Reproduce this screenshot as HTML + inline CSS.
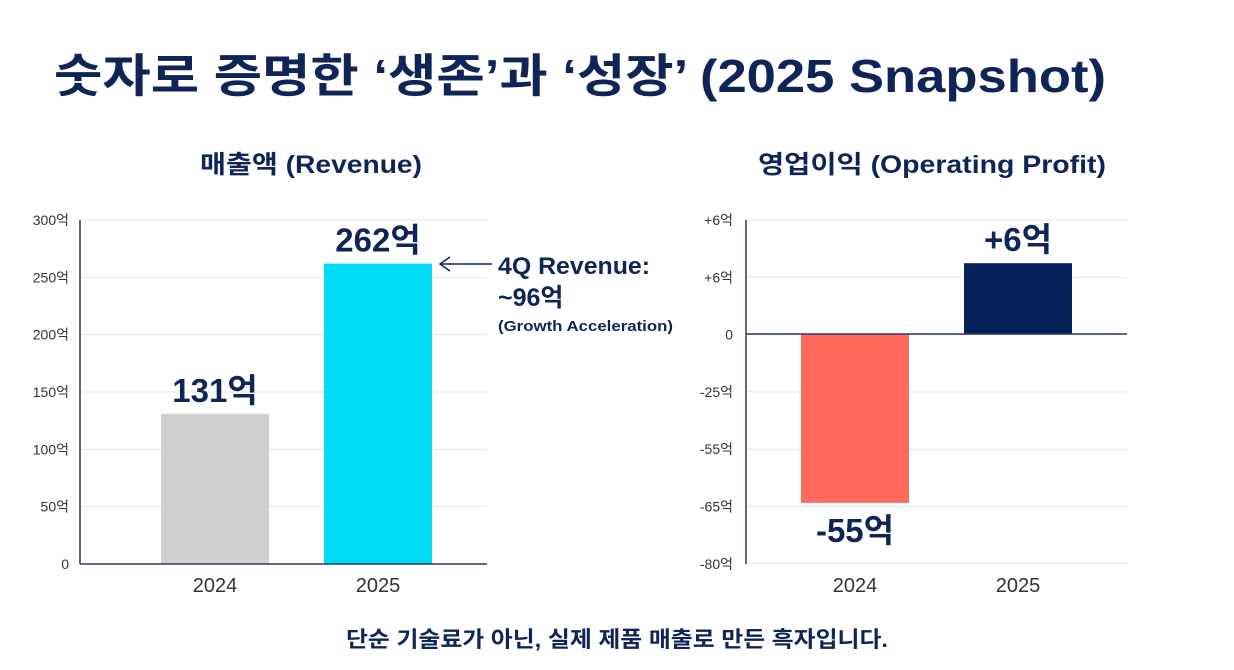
<!DOCTYPE html>
<html><head><meta charset="utf-8">
<style>
html,body{margin:0;padding:0;background:#fff;width:1234px;height:670px;overflow:hidden}
body{font-family:"Liberation Sans","Noto Sans CJK KR",sans-serif;color:#0f2557}
</style></head>
<body>
<svg width="1234" height="670" viewBox="0 0 1234 670" xmlns="http://www.w3.org/2000/svg" font-family="Liberation Sans, Noto Sans CJK KR, sans-serif">
<text x="54" y="92" font-size="46" font-weight="bold" fill="#0f2557" textLength="1052" lengthAdjust="spacingAndGlyphs">숫자로 증명한 ‘생존’과 ‘성장’ (2025 Snapshot)</text>
<text x="200" y="173" font-size="25" font-weight="bold" fill="#0f2557" textLength="222" lengthAdjust="spacingAndGlyphs">매출액 (Revenue)</text>
<text x="758" y="173" font-size="25" font-weight="bold" fill="#0f2557" textLength="348" lengthAdjust="spacingAndGlyphs">영업이익 (Operating Profit)</text>
<g id="left"></g>
<g id="right"></g>
<g>
<line x1="440" y1="264" x2="492" y2="264" stroke="#0f2557" stroke-width="1.5"/>
<polyline points="450,257 440,264 450,271" fill="none" stroke="#0f2557" stroke-width="1.5"/>
<text x="498" y="274" font-size="24" font-weight="bold" fill="#0f2557" textLength="152" lengthAdjust="spacingAndGlyphs">4Q Revenue:</text>
<text x="498" y="306" font-size="25" font-weight="bold" fill="#0f2557">~96억</text>
<text x="498" y="331" font-size="15" font-weight="bold" fill="#0f2557" textLength="175" lengthAdjust="spacingAndGlyphs">(Growth Acceleration)</text>
</g>
<text x="346" y="647" font-size="22" font-weight="bold" fill="#0f2557" textLength="542" lengthAdjust="spacingAndGlyphs">단순 기술료가 아닌, 실제 제품 매출로 만든 흑자입니다.</text>
</svg>
<script>
const revCategories = ["2024","2025"];
const revValues = [131, 262];
const revLabels = ["131억","262억"];
const revTicks = [0,50,100,150,200,250,300];
const profCategories = ["2024","2025"];
const profValues = [-55, 6];
const profLabels = ["-55억","+6억"];
const profTickLabels = ["+6억","+6억","0","-25억","-55억","-65억","-80억"];

const NS="http://www.w3.org/2000/svg";
function mk(p,t,a){const e=document.createElementNS(NS,t);for(const k in a)e.setAttribute(k,a[k]);p.appendChild(e);return e;}

const L=document.getElementById('left');
const ly=v=>564-v*(344/300);
const lx=i=>215+i*163;
revTicks.forEach(t=>{
  const g=mk(L,'line',{x1:80,x2:487,y1:ly(t),y2:ly(t),stroke:'#e3e3e3','stroke-width':1});
  
  
  const tx=mk(L,'text',{x:69,y:ly(t)+5,'font-size':14,'text-anchor':'end',fill:'#333'});
  tx.textContent=t===0?'0':t+'억';
  
  
});
const revColors=['#d0d0d0','#00dcf5'];
revValues.forEach((v,i)=>{
  const r=mk(L,'rect',{x:lx(i)-54,y:ly(v),width:108,height:ly(0)-ly(v),fill:revColors[i]});
  
  
  const t=mk(L,'text',{x:lx(i),y:ly(v)-12,'font-size':33,'font-weight':'bold','text-anchor':'middle',fill:'#0f2557'});
  t.textContent=revLabels[i];
  
  
  const c=mk(L,'text',{x:lx(i),y:592,'font-size':20,'text-anchor':'middle',fill:'#333'});
  c.textContent=revCategories[i];
  
  
});
mk(L,'line',{x1:80,x2:80,y1:220,y2:564,stroke:'#2a3a5a','stroke-width':1.5});
mk(L,'line',{x1:80,x2:487,y1:564,y2:564,stroke:'#2a3a5a','stroke-width':1.5});

const R=document.getElementById('right');
const ry=v=>v<0?334-v*3.07:334-v*11.8;
const rx=i=>855+i*163;
profTickLabels.forEach((lab,i)=>{
  const y=220+i*57.3;
  const g=mk(R,'line',{x1:746,x2:1127,y1:y,y2:y,stroke:'#e3e3e3','stroke-width':1});
  
  
  const tx=mk(R,'text',{x:733,y:y+5,'font-size':14,'text-anchor':'end',fill:'#333'});
  tx.textContent=lab;
  
  
});
const profColors=['#ff6a5c','#04215a'];
profValues.forEach((v,i)=>{
  const top=Math.min(ry(v),ry(0)),h=Math.abs(ry(v)-ry(0));
  const r=mk(R,'rect',{x:rx(i)-54,y:top,width:108,height:h,fill:profColors[i]});
  
  
  const ty=v<0?ry(v)+39:ry(v)-12;
  const t=mk(R,'text',{x:rx(i),y:ty,'font-size':33,'font-weight':'bold','text-anchor':'middle',fill:'#0f2557'});
  t.textContent=profLabels[i];
  
  
  const c=mk(R,'text',{x:rx(i),y:592,'font-size':20,'text-anchor':'middle',fill:'#333'});
  c.textContent=profCategories[i];
  
  
});
mk(R,'line',{x1:746,x2:746,y1:220,y2:564,stroke:'#2a3a5a','stroke-width':1.5});
mk(R,'line',{x1:746,x2:1127,y1:ry(0),y2:ry(0),stroke:'#2a3a5a','stroke-width':1.5});
</script>
</body></html>
